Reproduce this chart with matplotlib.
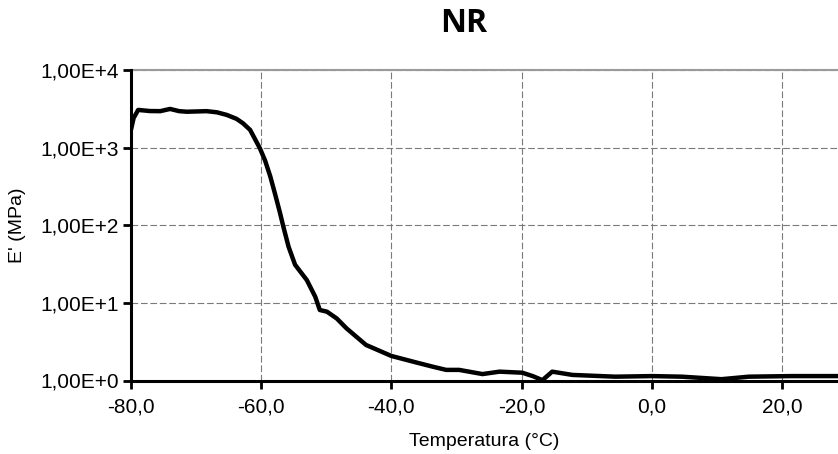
import numpy as np
import matplotlib
matplotlib.use('Agg')
import matplotlib.pyplot as plt
from matplotlib.ticker import FuncFormatter, FixedLocator, NullLocator

temperature = [-80.0, -79.6, -78.9, -77.1, -75.5, -74.0, -72.6, -71.4, -68.4, -66.8,
               -65.3, -63.8, -62.8, -61.7, -60.2, -59.4, -58.6, -57.8, -57.1, -56.6,
               -55.8, -54.8, -53.0, -51.7, -51.0, -49.9, -48.4, -46.9, -43.9, -40.0,
               -36.1, -33.7, -31.6, -29.6, -26.0, -23.4, -19.9, -18.3, -16.8, -15.3,
               -12.2, -5.6, 0.0, 4.6, 10.7, 14.9, 21.5, 27.6, 29.0]
modulus = [1700, 2400, 3060, 2960, 2950, 3150, 2950, 2900, 2950, 2850,
           2640, 2350, 2060, 1690, 980, 680, 424, 240, 143, 96,
           53, 31, 19.7, 12.0, 8.1, 7.7, 6.3, 4.7, 2.87, 2.07,
           1.70, 1.51, 1.37, 1.37, 1.21, 1.30, 1.26, 1.14, 1.01, 1.30,
           1.18, 1.12, 1.14, 1.12, 1.04, 1.12, 1.14, 1.14, 1.14]

x_ticks = [-80, -60, -40, -20, 0, 20]
y_ticks = [1, 10, 100, 1000, 10000]

plt.rcParams['font.family'] = ['Liberation Sans', 'DejaVu Sans']

fig = plt.figure(figsize=(8.38, 4.54), dpi=100)
ax = fig.add_axes([131 / 838, 73.5 / 454, 707 / 838, 310.5 / 454])

ax.plot(temperature, modulus, color='black', lw=3.2, solid_joinstyle='round',
        solid_capstyle='round', zorder=3)

ax.set_yscale('log')
ax.set_xlim(-80, 28.6)
ax.set_ylim(1, 10000)

ax.xaxis.set_major_locator(FixedLocator(x_ticks))
ax.yaxis.set_major_locator(FixedLocator(y_ticks))
ax.yaxis.set_minor_locator(NullLocator())
ax.xaxis.set_major_formatter(FuncFormatter(lambda v, p: ('%.1f' % v).replace('.', ',')))
ax.yaxis.set_major_formatter(FuncFormatter(lambda v, p: '1,00E+%d' % round(np.log10(v))))

ax.grid(True, which='major', color='#7a7a7a', lw=0.8, linestyle=(0, (6, 2.5)))
ax.tick_params(axis='both', labelsize=15, direction='out', length=6, width=2, colors='black')
ax.tick_params(axis='x', pad=6)
ax.tick_params(axis='y', pad=3)

for side in ['left', 'bottom']:
    ax.spines[side].set_linewidth(2.2)
    ax.spines[side].set_color('black')
    ax.spines[side].set_zorder(4)
ax.spines['top'].set_color('#9a9a9a')
ax.spines['top'].set_linewidth(1.5)
ax.spines['right'].set_visible(False)

ax.set_xlabel('Temperatura (°C)', fontsize=14, labelpad=12)
ax.set_ylabel("E' (MPa)", fontsize=14, labelpad=10)

fig.text(464 / 838, 1 - 23 / 454, 'NR', fontsize=23, fontweight='bold',
         family=['Open Sans', 'DejaVu Sans'], ha='center', va='center')

fig.savefig('out.png', dpi=100)
